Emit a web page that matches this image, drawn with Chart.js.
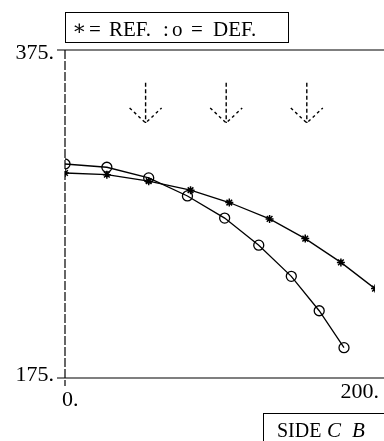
<!DOCTYPE html>
<html>
<head>
<meta charset="utf-8">
<script src="https://cdn.jsdelivr.net/npm/chart.js@4"></script>
<style>
  html, body { margin: 0; padding: 0; background: #fff; }
  #wrap { width: 384px; height: 441px; }
</style>
</head>
<body>
<div id="wrap"><canvas id="chart" width="384" height="441"></canvas></div>
<script>
// values
const refX = [0, 27, 54, 81, 106, 132, 155, 178, 200];
const refY = [300, 299, 295, 289.5, 282, 272, 260, 245.5, 229.5];
const defX = [0, 27, 54, 79, 103, 125, 146, 164, 180];
const defY = [305.5, 303.5, 297, 286, 272.5, 256, 237, 216, 193.5];
const arrowX = [52, 104, 156];
const arrowTop = 355;
const arrowBottom = 330.5;
const xTicks = [0, 200];
const yTicks = [175, 375];

const SERIF = '"Liberation Serif", "DejaVu Serif", serif';

function toPoints(xs, ys) {
    return xs.map((x, i) => ({ x: x, y: ys[i] }));
}

const decorations = {
    id: 'decorations',
    afterDraw(chart) {
        const ctx = chart.ctx;
        const area = chart.chartArea;
        const xs = chart.scales.x;
        const ys = chart.scales.y;
        ctx.save();
        ctx.strokeStyle = '#000';
        ctx.fillStyle = '#000';
        ctx.lineWidth = 1.2;

        // frame: top and bottom rules
        ctx.beginPath();
        ctx.moveTo(area.left - 8, area.top);
        ctx.lineTo(chart.width, area.top);
        ctx.moveTo(area.left - 8, area.bottom);
        ctx.lineTo(chart.width, area.bottom);
        ctx.stroke();

        // dashed left axis
        ctx.setLineDash([9, 2]);
        ctx.beginPath();
        ctx.moveTo(area.left, area.top);
        ctx.lineTo(area.left, area.bottom + 8);
        ctx.stroke();
        ctx.setLineDash([]);

        // tick labels
        ctx.font = '22px ' + SERIF;
        ctx.textAlign = 'right';
        ctx.textBaseline = 'alphabetic';
        ctx.fillText(yTicks[1] + '.', area.left - 11, ys.getPixelForValue(yTicks[1]) + 9);
        ctx.fillText(yTicks[0] + '.', area.left - 11, ys.getPixelForValue(yTicks[0]) + 3);
        ctx.textAlign = 'left';
        ctx.fillText(xTicks[0] + '.', xs.getPixelForValue(xTicks[0]) - 3, area.bottom + 28);
        ctx.textAlign = 'right';
        ctx.fillText(xTicks[1] + '.', xs.getPixelForValue(xTicks[1]) + 4, area.bottom + 20);

        // legend box
        ctx.lineWidth = 1;
        ctx.strokeRect(65.5, 12.5, 223, 30);
        ctx.textAlign = 'left';
        ctx.font = '21px ' + SERIF;
        ctx.fillText('\u2217', 72, 35);
        ctx.fillText('=', 89, 36);
        ctx.fillText('REF.', 109, 36);
        ctx.fillText(':', 163, 36);
        ctx.fillText('o', 172, 36);
        ctx.fillText('=', 191, 36);
        ctx.fillText('DEF.', 213, 36);

        // dashed arrows
        ctx.lineWidth = 1.4;
        arrowX.forEach(v => {
            const px = xs.getPixelForValue(v);
            const top = ys.getPixelForValue(arrowTop);
            const bot = ys.getPixelForValue(arrowBottom);
            ctx.setLineDash([4, 2.5]);
            ctx.beginPath();
            ctx.moveTo(px, top);
            ctx.lineTo(px, bot);
            ctx.stroke();
            ctx.setLineDash([3, 3]);
            ctx.beginPath();
            ctx.moveTo(px - 16, bot - 15);
            ctx.lineTo(px, bot);
            ctx.lineTo(px + 16, bot - 15);
            ctx.stroke();
        });
        ctx.setLineDash([]);

        // axis caption box
        ctx.lineWidth = 1;
        ctx.strokeRect(263.5, 413.5, 130, 40);
        ctx.font = '20px ' + SERIF;
        ctx.fillText('SIDE', 277, 437);
        ctx.font = 'italic 21px ' + SERIF;
        ctx.fillText('C', 327, 437);
        ctx.fillText('B', 352, 437);
        ctx.restore();
    }
};

new Chart(document.getElementById('chart').getContext('2d'), {
    type: 'line',
    data: {
        datasets: [
            {
                label: 'REF.',
                data: toPoints(refX, refY),
                borderColor: '#000',
                borderWidth: 1.3,
                pointStyle: 'star',
                pointRadius: 4,
                pointBorderColor: '#000',
                pointBorderWidth: 1.5,
                tension: 0
            },
            {
                label: 'DEF.',
                data: toPoints(defX, defY),
                borderColor: '#000',
                borderWidth: 1.3,
                pointStyle: 'circle',
                pointRadius: 5,
                pointBackgroundColor: 'rgba(0,0,0,0)',
                pointBorderColor: '#000',
                pointBorderWidth: 1.3,
                tension: 0
            }
        ]
    },
    options: {
        responsive: false,
        animation: false,
        layout: { padding: { left: 65, right: 9, top: 50, bottom: 63 } },
        plugins: {
            legend: { display: false },
            tooltip: { enabled: false }
        },
        scales: {
            x: { type: 'linear', min: 0, max: 200, display: false },
            y: { type: 'linear', min: 175, max: 375, display: false }
        }
    },
    plugins: [decorations]
});
</script>
</body>
</html>
